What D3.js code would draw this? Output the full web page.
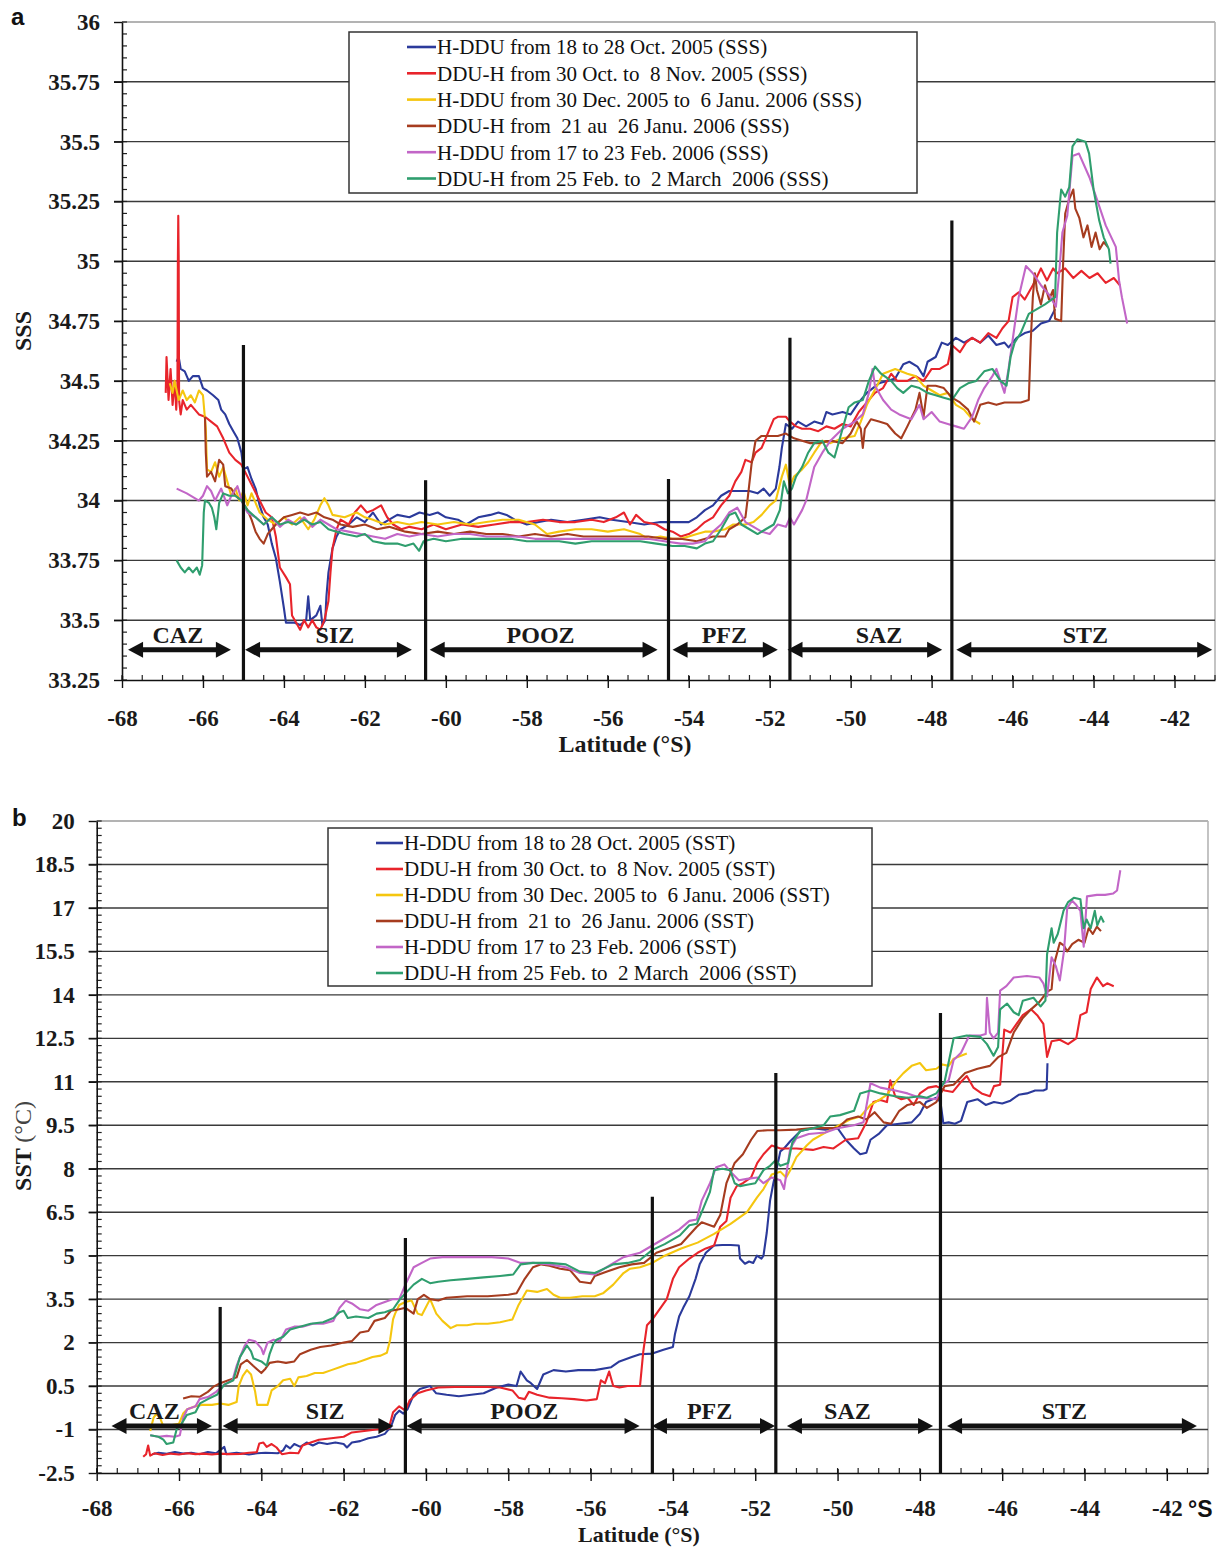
<!DOCTYPE html>
<html>
<head>
<meta charset="utf-8">
<script src="https://cdn.jsdelivr.net/npm/d3@7"></script>
<style>
  body { margin: 0; background: #fff; }
  svg text { font-family: "Liberation Serif", "Times New Roman", serif; }
</style>
</head>
<body>
<svg id="fig" width="1222" height="1547"></svg>
<script>
// ---------- shared axis content ----------
const latTicks = [-68, -66, -64, -62, -60, -58, -56, -54, -52, -50, -48, -46, -44, -42];
const sssTicks = [33.25, 33.5, 33.75, 34, 34.25, 34.5, 34.75, 35, 35.25, 35.5, 35.75, 36];
const sstTicks = [-2.5, -1, 0.5, 2, 3.5, 5, 6.5, 8, 9.5, 11, 12.5, 14, 15.5, 17, 18.5, 20];

// ---------- frontal zones ----------
const zoneNames = ["CAZ", "SIZ", "POOZ", "PFZ", "SAZ", "STZ"];
const frontLats = [-65, -60.5, -54.5, -51.5, -47.5];
const sssFrontTops = [34.65, 34.085, 34.09, 34.68, 35.17];
const sstFrontTops = [3.23, 5.61, 7.03, 11.3, 13.37];
const sssZoneSpans = [[-67.85, -65.31], [-64.96, -60.84], [-60.40, -54.77], [-54.40, -51.80], [-51.56, -47.74], [-47.39, -41.07]];
const sstZoneSpans = [[-67.64, -65.2], [-64.94, -60.79], [-60.47, -54.81], [-54.51, -51.52], [-51.23, -47.68], [-47.34, -41.27]];
const sssZoneLabelLats = [-66.62, -62.74, -57.66, -53.12, -49.3, -44.2];
const sstZoneLabelLats = [-66.6, -62.45, -57.61, -53.11, -49.76, -44.49];
const sssArrowLevel = 33.376;
const sstArrowLevel = -0.88;

// ---------- legend texts ----------
const sssLabels = [
  "H-DDU from 18 to 28 Oct. 2005 (SSS)",
  "DDU-H from 30 Oct. to  8 Nov. 2005 (SSS)",
  "H-DDU from 30 Dec. 2005 to  6 Janu. 2006 (SSS)",
  "DDU-H from  21 au  26 Janu. 2006 (SSS)",
  "H-DDU from 17 to 23 Feb. 2006 (SSS)",
  "DDU-H from 25 Feb. to  2 March  2006 (SSS)"
];
const sstLabels = [
  "H-DDU from 18 to 28 Oct. 2005 (SST)",
  "DDU-H from 30 Oct. to  8 Nov. 2005 (SST)",
  "H-DDU from 30 Dec. 2005 to  6 Janu. 2006 (SST)",
  "DDU-H from  21 to  26 Janu. 2006 (SST)",
  "H-DDU from 17 to 23 Feb. 2006 (SST)",
  "DDU-H from 25 Feb. to  2 March  2006 (SST)"
];
const cruiseColors = ["#2b3a9b", "#e8242b", "#f5c60f", "#a63c1f", "#c266c7", "#2f9e6e"];

// ---------- surface salinity, [latitude, SSS] ----------
const sssOct05 = [[-66.65,34.58],[-66.6,34.6],[-66.55,34.55],[-66.45,34.54],[-66.35,34.5],[-66.25,34.52],[-66.1,34.52],[-66.0,34.47],[-65.9,34.46],[-65.75,34.44],[-65.62,34.42],[-65.55,34.38],[-65.45,34.36],[-65.35,34.32],[-65.25,34.29],[-65.15,34.26],[-65.05,34.2],[-65.0,34.13],[-64.9,34.14],[-64.8,34.09],[-64.7,34.05],[-64.6,33.98],[-64.5,33.93],[-64.4,33.9],[-64.3,33.82],[-64.2,33.76],[-64.1,33.66],[-64.0,33.55],[-63.95,33.49],[-63.75,33.49],[-63.6,33.48],[-63.45,33.5],[-63.4,33.6],[-63.35,33.5],[-63.2,33.52],[-63.1,33.56],[-63.05,33.48],[-62.98,33.5],[-62.95,33.6],[-62.9,33.7],[-62.8,33.8],[-62.7,33.85],[-62.6,33.88],[-62.4,33.9],[-62.2,33.93],[-62.0,33.91],[-61.8,33.95],[-61.6,33.9],[-61.4,33.92],[-61.2,33.94],[-60.9,33.93],[-60.65,33.95],[-60.4,33.94],[-60.2,33.95],[-60.0,33.93],[-59.7,33.92],[-59.5,33.9],[-59.2,33.93],[-58.9,33.94],[-58.7,33.95],[-58.5,33.94],[-58.3,33.92],[-58.0,33.9],[-57.7,33.91],[-57.4,33.92],[-57.0,33.91],[-56.6,33.92],[-56.2,33.93],[-55.9,33.92],[-55.5,33.91],[-55.1,33.9],[-54.7,33.91],[-54.3,33.91],[-54.0,33.91],[-53.8,33.93],[-53.6,33.96],[-53.4,33.98],[-53.2,34.02],[-53.0,34.04],[-52.8,34.04],[-52.5,34.04],[-52.3,34.03],[-52.15,34.05],[-52.0,34.02],[-51.85,34.05],[-51.76,34.14],[-51.7,34.22],[-51.6,34.32],[-51.45,34.3],[-51.3,34.33],[-51.1,34.31],[-50.9,34.33],[-50.7,34.32],[-50.6,34.37],[-50.45,34.36],[-50.2,34.37],[-50.0,34.36],[-49.8,34.41],[-49.6,34.45],[-49.3,34.49],[-49.1,34.5],[-48.9,34.51],[-48.7,34.57],[-48.55,34.58],[-48.35,34.56],[-48.2,34.52],[-48.1,34.58],[-47.9,34.6],[-47.75,34.66],[-47.6,34.65],[-47.4,34.68],[-47.2,34.66],[-47.0,34.68],[-46.8,34.66],[-46.6,34.69],[-46.4,34.65],[-46.2,34.66],[-46.1,34.64],[-45.9,34.68],[-45.7,34.7],[-45.5,34.71],[-45.3,34.74],[-45.1,34.75],[-44.95,34.8]];
const sssNov05 = [[-66.92,34.45],[-66.9,34.6],[-66.85,34.42],[-66.8,34.55],[-66.75,34.4],[-66.7,34.5],[-66.66,34.38],[-66.63,34.5],[-66.62,35.0],[-66.61,35.19],[-66.6,35.02],[-66.59,34.42],[-66.55,34.36],[-66.5,34.42],[-66.4,34.38],[-66.3,34.4],[-66.2,34.38],[-66.1,34.36],[-65.95,34.35],[-65.8,34.33],[-65.65,34.31],[-65.5,34.26],[-65.35,34.2],[-65.2,34.17],[-65.05,34.15],[-64.9,34.1],[-64.75,34.05],[-64.6,34.0],[-64.45,33.95],[-64.3,33.93],[-64.2,33.85],[-64.1,33.72],[-63.95,33.68],[-63.85,33.65],[-63.8,33.52],[-63.7,33.49],[-63.6,33.46],[-63.5,33.5],[-63.4,33.47],[-63.3,33.5],[-63.2,33.47],[-63.1,33.46],[-63.0,33.5],[-62.9,33.58],[-62.85,33.7],[-62.8,33.8],[-62.7,33.88],[-62.6,33.92],[-62.4,33.9],[-62.25,33.95],[-62.1,33.98],[-61.95,33.95],[-61.8,33.96],[-61.6,33.98],[-61.45,33.93],[-61.3,33.9],[-61.1,33.88],[-60.9,33.89],[-60.6,33.88],[-60.3,33.9],[-60.0,33.88],[-59.6,33.9],[-59.2,33.89],[-58.8,33.9],[-58.4,33.91],[-58.0,33.91],[-57.6,33.92],[-57.2,33.91],[-56.8,33.91],[-56.4,33.92],[-56.1,33.91],[-55.8,33.93],[-55.6,33.95],[-55.45,33.9],[-55.3,33.94],[-55.1,33.91],[-54.8,33.9],[-54.6,33.88],[-54.4,33.87],[-54.2,33.85],[-54.0,33.86],[-53.8,33.88],[-53.6,33.91],[-53.4,33.93],[-53.2,33.98],[-53.0,34.02],[-52.85,34.08],[-52.7,34.12],[-52.6,34.17],[-52.45,34.16],[-52.35,34.2],[-52.2,34.22],[-52.05,34.28],[-51.9,34.34],[-51.8,34.35],[-51.6,34.35],[-51.5,34.33],[-51.35,34.31],[-51.2,34.3],[-51.0,34.3],[-50.8,34.29],[-50.6,34.31],[-50.4,34.3],[-50.2,34.32],[-50.0,34.31],[-49.8,34.37],[-49.6,34.41],[-49.4,34.45],[-49.2,34.47],[-49.0,34.53],[-48.85,34.5],[-48.6,34.5],[-48.4,34.52],[-48.2,34.5],[-48.0,34.55],[-47.8,34.55],[-47.6,34.57],[-47.5,34.65],[-47.3,34.62],[-47.15,34.66],[-47.0,34.68],[-46.8,34.66],[-46.6,34.7],[-46.4,34.68],[-46.25,34.72],[-46.1,34.75],[-46.0,34.85],[-45.85,34.87],[-45.7,34.84],[-45.5,34.9],[-45.3,34.97],[-45.15,34.92],[-45.0,34.97],[-44.9,34.95],[-44.7,34.97],[-44.5,34.93],[-44.3,34.96],[-44.1,34.93],[-43.9,34.95],[-43.7,34.91],[-43.5,34.93],[-43.35,34.9]];
const sssJan06a = [[-66.82,34.49],[-66.75,34.45],[-66.7,34.5],[-66.6,34.42],[-66.5,34.46],[-66.4,34.42],[-66.3,34.44],[-66.2,34.41],[-66.1,34.46],[-66.0,34.44],[-65.93,34.3],[-65.9,34.13],[-65.8,34.12],[-65.7,34.16],[-65.6,34.1],[-65.5,34.14],[-65.4,34.08],[-65.3,34.02],[-65.2,34.05],[-65.1,34.0],[-65.0,34.04],[-64.9,33.98],[-64.8,34.03],[-64.6,33.95],[-64.4,33.92],[-64.2,33.9],[-64.0,33.93],[-63.8,33.9],[-63.6,33.93],[-63.4,33.88],[-63.25,33.92],[-63.1,33.98],[-63.0,34.01],[-62.9,33.98],[-62.8,33.94],[-62.5,33.93],[-62.2,33.95],[-62.0,33.93],[-61.8,33.92],[-61.5,33.9],[-61.2,33.91],[-60.9,33.9],[-60.6,33.91],[-60.2,33.9],[-59.8,33.91],[-59.4,33.9],[-59.0,33.91],[-58.6,33.92],[-58.2,33.92],[-57.8,33.9],[-57.5,33.86],[-57.2,33.87],[-56.8,33.88],[-56.4,33.88],[-56.0,33.87],[-55.6,33.88],[-55.2,33.86],[-55.0,33.84],[-54.7,33.85],[-54.4,33.84],[-54.2,33.84],[-54.0,33.85],[-53.8,33.86],[-53.6,33.87],[-53.4,33.87],[-53.1,33.88],[-52.9,33.9],[-52.6,33.9],[-52.4,33.91],[-52.2,33.94],[-52.0,33.98],[-51.85,34.0],[-51.7,34.1],[-51.6,34.15],[-51.5,34.06],[-51.4,34.1],[-51.2,34.13],[-51.05,34.16],[-50.9,34.2],[-50.7,34.25],[-50.5,34.24],[-50.2,34.26],[-49.9,34.27],[-49.75,34.33],[-49.6,34.4],[-49.35,34.48],[-49.2,34.53],[-48.9,34.55],[-48.6,34.53],[-48.4,34.52],[-48.2,34.48],[-48.0,34.46],[-47.8,34.44],[-47.6,34.45],[-47.4,34.4],[-47.2,34.38],[-47.0,34.34],[-46.8,34.32]];
const sssJan06b = [[-65.95,34.35],[-65.93,34.2],[-65.9,34.1],[-65.8,34.12],[-65.7,34.08],[-65.6,34.17],[-65.5,34.15],[-65.45,34.06],[-65.3,34.05],[-65.2,34.02],[-65.05,34.0],[-64.9,33.96],[-64.8,33.92],[-64.7,33.87],[-64.6,33.84],[-64.5,33.82],[-64.4,33.86],[-64.2,33.9],[-64.0,33.93],[-63.8,33.94],[-63.6,33.95],[-63.4,33.94],[-63.2,33.95],[-63.0,33.93],[-62.8,33.92],[-62.6,33.9],[-62.3,33.89],[-62.0,33.9],[-61.7,33.88],[-61.4,33.89],[-61.0,33.87],[-60.6,33.86],[-60.2,33.87],[-59.8,33.86],[-59.4,33.87],[-59.0,33.86],[-58.6,33.86],[-58.2,33.85],[-57.8,33.86],[-57.4,33.85],[-57.0,33.86],[-56.6,33.85],[-56.2,33.85],[-55.8,33.85],[-55.4,33.85],[-55.0,33.85],[-54.6,33.84],[-54.2,33.84],[-53.8,33.83],[-53.4,33.85],[-53.1,33.85],[-53.0,33.88],[-52.8,33.9],[-52.6,33.93],[-52.55,34.0],[-52.45,34.15],[-52.35,34.25],[-52.2,34.27],[-52.0,34.27],[-51.8,34.27],[-51.6,34.28],[-51.4,34.26],[-51.2,34.25],[-51.0,34.24],[-50.8,34.24],[-50.5,34.25],[-50.2,34.24],[-50.0,34.28],[-49.85,34.33],[-49.75,34.3],[-49.7,34.22],[-49.65,34.3],[-49.5,34.34],[-49.3,34.33],[-49.1,34.32],[-48.9,34.28],[-48.75,34.26],[-48.6,34.31],[-48.4,34.38],[-48.3,34.45],[-48.2,34.35],[-48.1,34.48],[-47.9,34.48],[-47.7,34.47],[-47.5,34.43],[-47.3,34.41],[-47.1,34.38],[-46.95,34.33],[-46.8,34.4],[-46.6,34.41],[-46.4,34.4],[-46.2,34.41],[-46.0,34.41],[-45.8,34.41],[-45.6,34.42],[-45.55,34.67],[-45.5,34.85],[-45.45,34.95],[-45.4,34.88],[-45.3,34.82],[-45.2,34.9],[-45.1,34.84],[-45.0,34.88],[-44.95,34.76],[-44.8,34.75],[-44.75,35.0],[-44.7,35.2],[-44.6,35.26],[-44.5,35.3],[-44.45,35.22],[-44.35,35.18],[-44.25,35.1],[-44.15,35.15],[-44.05,35.06],[-43.95,35.12],[-43.85,35.05],[-43.75,35.08],[-43.65,35.06]];
const sssFeb06 = [[-66.65,34.05],[-66.4,34.03],[-66.1,34.0],[-66.0,34.02],[-65.9,34.06],[-65.8,34.04],[-65.7,34.0],[-65.55,34.05],[-65.4,33.98],[-65.3,34.02],[-65.15,34.06],[-65.0,33.98],[-64.9,33.95],[-64.7,33.93],[-64.5,33.9],[-64.3,33.93],[-64.1,33.89],[-63.9,33.92],[-63.7,33.9],[-63.5,33.93],[-63.3,33.89],[-63.1,33.92],[-62.9,33.9],[-62.7,33.88],[-62.4,33.87],[-62.1,33.86],[-61.8,33.85],[-61.5,33.84],[-61.2,33.86],[-60.9,33.85],[-60.6,33.86],[-60.2,33.85],[-59.8,33.86],[-59.4,33.86],[-59.0,33.85],[-58.6,33.85],[-58.2,33.85],[-57.8,33.84],[-57.4,33.84],[-57.0,33.84],[-56.6,33.84],[-56.2,33.84],[-55.8,33.84],[-55.4,33.84],[-55.0,33.84],[-54.6,33.83],[-54.2,33.82],[-53.9,33.82],[-53.6,33.83],[-53.4,33.87],[-53.2,33.9],[-53.0,33.95],[-52.8,33.97],[-52.6,33.91],[-52.4,33.89],[-52.2,33.87],[-52.0,33.86],[-51.8,33.9],[-51.6,33.89],[-51.5,33.93],[-51.4,33.9],[-51.2,33.96],[-51.1,34.0],[-50.9,34.14],[-50.7,34.2],[-50.5,34.25],[-50.2,34.3],[-49.9,34.33],[-49.7,34.36],[-49.55,34.45],[-49.46,34.55],[-49.4,34.48],[-49.2,34.42],[-49.0,34.38],[-48.8,34.36],[-48.5,34.34],[-48.3,34.4],[-48.2,34.34],[-48.0,34.37],[-47.8,34.33],[-47.6,34.32],[-47.4,34.31],[-47.2,34.3],[-47.0,34.35],[-46.85,34.42],[-46.7,34.47],[-46.5,34.52],[-46.4,34.55],[-46.3,34.5],[-46.2,34.45],[-46.1,34.55],[-46.0,34.67],[-45.85,34.85],[-45.67,34.98],[-45.5,34.95],[-45.3,34.9],[-45.1,34.86],[-44.93,34.81],[-44.85,34.95],[-44.77,35.12],[-44.65,35.19],[-44.52,35.44],[-44.36,35.45],[-44.1,35.35],[-43.9,35.25],[-43.7,35.15],[-43.45,35.06],[-43.37,34.92],[-43.3,34.85],[-43.17,34.74]];
const sssMar06 = [[-66.65,33.75],[-66.55,33.72],[-66.45,33.7],[-66.35,33.72],[-66.25,33.7],[-66.15,33.72],[-66.08,33.69],[-66.02,33.73],[-65.98,33.95],[-65.95,34.0],[-65.85,33.99],[-65.78,33.97],[-65.72,33.93],[-65.67,33.88],[-65.6,33.99],[-65.5,34.03],[-65.35,34.02],[-65.2,34.02],[-65.05,34.0],[-64.9,33.96],[-64.7,33.93],[-64.5,33.9],[-64.3,33.93],[-64.1,33.9],[-63.9,33.91],[-63.7,33.9],[-63.5,33.92],[-63.3,33.9],[-63.1,33.91],[-62.9,33.88],[-62.7,33.87],[-62.5,33.86],[-62.2,33.85],[-62.0,33.86],[-61.8,33.83],[-61.5,33.82],[-61.2,33.82],[-61.0,33.81],[-60.8,33.82],[-60.66,33.79],[-60.55,33.83],[-60.3,33.84],[-60.0,33.83],[-59.6,33.84],[-59.2,33.84],[-58.8,33.84],[-58.4,33.84],[-58.0,33.83],[-57.6,33.83],[-57.2,33.83],[-56.8,33.82],[-56.4,33.83],[-56.0,33.83],[-55.6,33.83],[-55.2,33.83],[-54.8,33.82],[-54.4,33.81],[-54.1,33.81],[-53.8,33.8],[-53.6,33.82],[-53.4,33.83],[-53.2,33.88],[-53.0,33.94],[-52.85,33.95],[-52.7,33.9],[-52.5,33.88],[-52.3,33.86],[-52.1,33.88],[-51.9,33.9],[-51.75,33.96],[-51.65,34.08],[-51.55,34.03],[-51.45,34.05],[-51.35,34.1],[-51.2,34.14],[-51.05,34.2],[-50.9,34.24],[-50.7,34.25],[-50.55,34.2],[-50.4,34.18],[-50.2,34.3],[-50.05,34.39],[-49.9,34.41],[-49.7,34.42],[-49.55,34.5],[-49.4,34.56],[-49.25,34.53],[-49.0,34.5],[-48.85,34.47],[-48.7,34.45],[-48.5,34.48],[-48.3,34.47],[-48.1,34.45],[-47.9,34.44],[-47.7,34.43],[-47.5,34.42],[-47.3,34.47],[-47.1,34.49],[-46.9,34.5],[-46.7,34.54],[-46.5,34.55],[-46.3,34.5],[-46.15,34.48],[-46.05,34.6],[-45.95,34.66],[-45.8,34.7],[-45.6,34.78],[-45.4,34.8],[-45.2,34.82],[-44.95,34.85],[-44.9,35.12],[-44.8,35.3],[-44.7,35.27],[-44.6,35.31],[-44.52,35.48],[-44.4,35.51],[-44.2,35.5],[-44.11,35.45],[-44.0,35.3],[-43.86,35.17],[-43.75,35.1],[-43.62,35.05],[-43.58,34.99]];

// ---------- surface temperature, [latitude, SST in °C] ----------
const sstOct05 = [[-66.65,-1.85],[-66.5,-1.8],[-66.3,-1.84],[-66.1,-1.78],[-65.9,-1.83],[-65.7,-1.8],[-65.5,-1.85],[-65.3,-1.78],[-65.1,-1.82],[-64.9,-1.6],[-64.85,-1.85],[-64.6,-1.8],[-64.3,-1.86],[-64.1,-1.82],[-63.9,-1.8],[-63.6,-1.82],[-63.47,-1.72],[-63.4,-1.55],[-63.3,-1.65],[-63.2,-1.5],[-63.05,-1.6],[-62.9,-1.45],[-62.75,-1.55],[-62.6,-1.45],[-62.4,-1.5],[-62.2,-1.45],[-62.0,-1.5],[-61.92,-1.62],[-61.8,-1.45],[-61.6,-1.4],[-61.4,-1.3],[-61.2,-1.25],[-61.0,-1.15],[-60.85,-0.9],[-60.75,-0.5],[-60.65,-0.35],[-60.55,-0.45],[-60.45,-0.3],[-60.3,0.2],[-60.15,0.4],[-59.9,0.5],[-59.75,0.25],[-59.5,0.2],[-59.2,0.15],[-58.9,0.2],[-58.6,0.25],[-58.28,0.45],[-58.0,0.55],[-57.8,0.5],[-57.7,1.0],[-57.55,0.7],[-57.45,0.6],[-57.3,0.4],[-57.15,0.9],[-56.9,1.05],[-56.6,1.0],[-56.3,1.05],[-55.9,1.05],[-55.5,1.15],[-55.3,1.35],[-55.0,1.5],[-54.8,1.6],[-54.5,1.62],[-54.23,1.75],[-54.0,1.85],[-53.95,2.3],[-53.85,2.9],[-53.75,3.2],[-53.6,3.6],[-53.45,4.2],[-53.35,4.7],[-53.2,5.1],[-53.0,5.35],[-52.8,5.37],[-52.6,5.37],[-52.4,5.35],[-52.37,4.9],[-52.25,4.72],[-52.15,4.8],[-52.05,4.75],[-51.96,5.0],[-51.85,4.9],[-51.8,5.0],[-51.72,5.8],[-51.64,6.9],[-51.56,7.5],[-51.45,8.2],[-51.39,8.6],[-51.3,8.7],[-51.15,8.95],[-50.9,9.3],[-50.6,9.4],[-50.3,9.35],[-50.0,9.4],[-49.8,9.0],[-49.6,8.7],[-49.45,8.5],[-49.3,8.55],[-49.2,9.0],[-49.0,9.2],[-48.8,9.5],[-48.5,9.55],[-48.2,9.6],[-48.0,9.9],[-47.85,10.3],[-47.6,10.45],[-47.5,10.3],[-47.43,9.57],[-47.3,9.6],[-47.15,9.55],[-47.0,9.65],[-46.85,10.3],[-46.6,10.4],[-46.4,10.2],[-46.2,10.3],[-46.0,10.25],[-45.8,10.35],[-45.6,10.55],[-45.4,10.6],[-45.2,10.7],[-45.0,10.7],[-44.92,10.75],[-44.9,11.64]];
const sstNov05 = [[-66.87,-1.94],[-66.8,-1.85],[-66.75,-1.55],[-66.7,-1.9],[-66.6,-1.82],[-66.4,-1.88],[-66.2,-1.83],[-66.0,-1.86],[-65.8,-1.82],[-65.6,-1.85],[-65.4,-1.83],[-65.2,-1.86],[-65.0,-1.83],[-64.8,-1.85],[-64.5,-1.84],[-64.3,-1.8],[-64.11,-1.78],[-64.05,-1.48],[-63.95,-1.45],[-63.87,-1.6],[-63.75,-1.5],[-63.63,-1.62],[-63.5,-1.85],[-63.3,-1.8],[-63.1,-1.82],[-63.0,-1.55],[-62.8,-1.45],[-62.6,-1.35],[-62.3,-1.3],[-62.0,-1.25],[-61.8,-1.1],[-61.5,-1.05],[-61.2,-1.0],[-60.9,-0.95],[-60.8,-0.4],[-60.65,-0.2],[-60.5,-0.35],[-60.4,0.0],[-60.2,0.25],[-60.0,0.35],[-59.7,0.45],[-59.3,0.47],[-58.9,0.47],[-58.5,0.47],[-58.2,0.45],[-57.9,0.35],[-57.75,0.1],[-57.6,0.05],[-57.5,0.3],[-57.3,0.2],[-57.0,0.1],[-56.7,0.08],[-56.4,0.05],[-56.1,0.0],[-55.85,0.05],[-55.75,0.7],[-55.65,0.6],[-55.55,1.0],[-55.45,0.5],[-55.3,0.45],[-55.1,0.5],[-54.8,0.5],[-54.72,1.7],[-54.63,2.6],[-54.5,2.8],[-54.3,3.2],[-54.15,3.5],[-54.0,4.2],[-53.85,4.6],[-53.6,4.9],[-53.4,5.1],[-53.2,5.25],[-53.0,5.35],[-52.85,6.0],[-52.7,6.2],[-52.6,7.0],[-52.45,7.4],[-52.3,7.5],[-52.1,7.7],[-51.95,8.2],[-51.8,8.5],[-51.6,8.8],[-51.39,8.7],[-51.0,8.7],[-50.6,8.65],[-50.34,8.75],[-50.1,8.7],[-49.8,9.0],[-49.5,9.05],[-49.3,9.6],[-49.13,10.3],[-48.96,10.37],[-48.8,10.3],[-48.72,11.05],[-48.6,10.5],[-48.45,10.4],[-48.3,10.45],[-48.15,10.2],[-48.0,10.6],[-47.8,10.8],[-47.6,10.85],[-47.4,10.7],[-47.2,10.65],[-47.0,11.0],[-46.86,11.2],[-46.7,10.8],[-46.5,10.6],[-46.3,10.5],[-46.2,10.85],[-46.05,10.9],[-45.95,12.8],[-45.8,12.7],[-45.65,13.0],[-45.5,13.3],[-45.3,13.5],[-45.15,13.3],[-45.0,13.0],[-44.91,11.86],[-44.8,12.4],[-44.6,12.45],[-44.4,12.3],[-44.2,12.5],[-44.1,13.3],[-43.95,13.4],[-43.85,14.2],[-43.7,14.6],[-43.55,14.3],[-43.45,14.4],[-43.29,14.3]];
const sstJan06a = [[-66.7,-1.05],[-66.62,-0.6],[-66.55,-0.45],[-66.46,-0.6],[-66.38,-0.9],[-66.2,-0.85],[-66.0,-0.8],[-65.9,-0.45],[-65.8,-0.3],[-65.6,-0.2],[-65.45,-0.15],[-65.2,-0.15],[-65.0,-0.1],[-64.8,-0.15],[-64.6,-0.05],[-64.55,0.5],[-64.45,0.85],[-64.35,1.05],[-64.25,0.9],[-64.15,0.3],[-64.1,-0.15],[-63.95,-0.15],[-63.85,-0.15],[-63.75,0.35],[-63.6,0.5],[-63.47,0.7],[-63.3,0.75],[-63.2,0.5],[-63.1,0.8],[-62.9,0.85],[-62.7,0.95],[-62.5,0.95],[-62.3,1.05],[-62.1,1.15],[-61.9,1.25],[-61.7,1.3],[-61.5,1.4],[-61.3,1.5],[-61.1,1.55],[-60.95,1.65],[-60.87,2.1],[-60.8,2.8],[-60.75,3.0],[-60.65,3.3],[-60.5,3.4],[-60.35,3.45],[-60.2,3.0],[-60.1,2.95],[-59.9,3.5],[-59.75,3.0],[-59.6,2.75],[-59.4,2.5],[-59.25,2.6],[-59.0,2.6],[-58.8,2.65],[-58.5,2.65],[-58.2,2.7],[-57.9,2.8],[-57.75,3.3],[-57.55,3.8],[-57.3,3.75],[-57.06,3.85],[-56.9,3.65],[-56.74,3.55],[-56.5,3.55],[-56.2,3.6],[-55.9,3.6],[-55.7,3.7],[-55.45,4.0],[-55.2,4.4],[-55.04,4.55],[-54.8,4.6],[-54.5,4.75],[-54.2,5.0],[-53.8,5.25],[-53.4,5.45],[-53.0,5.75],[-52.6,6.1],[-52.2,6.5],[-51.96,7.0],[-51.8,7.3],[-51.6,7.8],[-51.39,7.9],[-51.25,7.7],[-51.15,7.95],[-51.0,8.4],[-50.75,8.8],[-50.6,9.0],[-50.35,9.2],[-50.1,9.4],[-49.9,9.55],[-49.7,9.7],[-49.45,9.8],[-49.2,10.2],[-48.96,10.4],[-48.8,10.55],[-48.56,11.05],[-48.4,11.3],[-48.2,11.55],[-48.0,11.65],[-47.85,11.4],[-47.6,11.45],[-47.45,11.6],[-47.3,11.55],[-47.18,11.8],[-47.0,11.9],[-46.86,11.98]];
const sstJan06b = [[-65.9,0.07],[-65.7,0.15],[-65.5,0.13],[-65.3,0.3],[-65.17,0.47],[-65.0,0.6],[-64.8,0.7],[-64.6,0.8],[-64.5,1.25],[-64.35,1.4],[-64.2,1.2],[-64.0,0.95],[-63.9,1.1],[-63.8,1.3],[-63.6,1.35],[-63.4,1.3],[-63.2,1.35],[-63.06,1.6],[-62.8,1.75],[-62.57,1.85],[-62.3,1.9],[-62.0,2.0],[-61.8,2.05],[-61.6,2.35],[-61.4,2.4],[-61.25,2.75],[-61.0,2.85],[-60.85,3.1],[-60.65,3.15],[-60.5,3.2],[-60.3,3.0],[-60.2,3.5],[-60.05,3.65],[-59.9,3.5],[-59.7,3.45],[-59.5,3.55],[-59.0,3.6],[-58.5,3.6],[-58.0,3.65],[-57.8,3.7],[-57.6,4.2],[-57.4,4.6],[-57.2,4.7],[-57.0,4.65],[-56.74,4.55],[-56.5,4.5],[-56.26,4.1],[-56.0,4.05],[-55.9,4.3],[-55.6,4.45],[-55.3,4.6],[-55.0,4.7],[-54.7,4.75],[-54.4,5.1],[-54.0,5.3],[-53.8,5.4],[-53.42,6.0],[-53.3,6.15],[-53.0,6.0],[-52.85,6.4],[-52.7,7.5],[-52.5,8.2],[-52.3,8.5],[-52.1,9.0],[-51.95,9.3],[-51.7,9.33],[-51.39,9.33],[-51.0,9.35],[-50.6,9.4],[-50.34,9.4],[-50.0,9.4],[-49.77,9.7],[-49.5,9.8],[-49.3,9.7],[-49.1,9.95],[-48.88,9.6],[-48.7,9.55],[-48.5,10.0],[-48.3,10.2],[-48.0,10.3],[-47.83,10.1],[-47.6,10.3],[-47.4,10.85],[-47.18,10.9],[-46.9,11.3],[-46.6,11.45],[-46.3,11.55],[-46.1,11.85],[-45.9,12.0],[-45.72,12.7],[-45.5,13.2],[-45.3,13.5],[-45.1,13.75],[-44.91,14.1],[-44.8,14.2],[-44.75,15.0],[-44.6,15.8],[-44.5,15.7],[-44.42,15.5],[-44.3,15.75],[-44.15,15.9],[-44.0,15.8],[-43.9,16.3],[-43.8,16.1],[-43.7,16.35],[-43.6,16.2]];
const sstFeb06 = [[-66.7,-1.2],[-66.5,-1.25],[-66.3,-1.22],[-66.1,-1.25],[-65.98,-1.2],[-65.9,-0.6],[-65.8,-0.3],[-65.6,-0.2],[-65.5,0.05],[-65.3,0.12],[-65.1,0.3],[-64.9,0.55],[-64.7,0.7],[-64.6,1.2],[-64.52,1.5],[-64.4,1.9],[-64.3,2.1],[-64.15,2.05],[-64.0,1.8],[-63.95,1.6],[-63.85,2.0],[-63.7,2.1],[-63.55,2.05],[-63.4,2.45],[-63.2,2.55],[-63.0,2.55],[-62.75,2.65],[-62.5,2.65],[-62.25,2.75],[-62.1,3.2],[-61.95,3.45],[-61.8,3.35],[-61.6,3.15],[-61.4,3.1],[-61.2,3.3],[-61.0,3.4],[-60.8,3.5],[-60.65,3.5],[-60.5,4.0],[-60.4,4.3],[-60.3,4.6],[-60.1,4.75],[-59.9,4.9],[-59.6,4.95],[-59.2,4.95],[-58.8,4.95],[-58.4,4.95],[-58.0,4.9],[-57.7,4.75],[-57.4,4.75],[-57.0,4.7],[-56.6,4.6],[-56.26,4.4],[-55.9,4.35],[-55.5,4.7],[-55.2,4.95],[-54.8,5.1],[-54.5,5.35],[-54.2,5.6],[-53.85,5.9],[-53.6,6.2],[-53.42,6.25],[-53.3,6.9],[-53.1,7.5],[-52.95,8.05],[-52.75,8.15],[-52.6,7.9],[-52.4,7.6],[-52.2,7.65],[-51.95,7.7],[-51.8,7.5],[-51.6,7.7],[-51.39,7.6],[-51.3,7.3],[-51.15,8.7],[-51.0,9.05],[-50.7,9.2],[-50.3,9.25],[-50.0,9.4],[-49.6,9.5],[-49.37,9.6],[-49.2,10.95],[-48.96,10.8],[-48.6,10.7],[-48.3,10.6],[-48.0,10.45],[-47.6,10.4],[-47.45,10.9],[-47.3,11.05],[-47.18,11.75],[-47.0,12.0],[-46.8,12.6],[-46.53,12.6],[-46.4,12.65],[-46.37,13.9],[-46.3,12.7],[-46.21,12.5],[-46.1,12.7],[-46.05,14.15],[-45.9,14.3],[-45.72,14.6],[-45.4,14.65],[-45.1,14.6],[-45.0,14.4],[-44.91,13.95],[-44.8,15.3],[-44.7,15.0],[-44.6,14.5],[-44.5,15.5],[-44.42,17.0],[-44.3,17.25],[-44.2,17.1],[-44.1,16.9],[-44.02,15.66],[-43.94,17.4],[-43.7,17.45],[-43.5,17.45],[-43.3,17.5],[-43.21,17.6],[-43.13,18.3]];
const sstMar06 = [[-66.7,-1.2],[-66.5,-1.25],[-66.38,-1.35],[-66.3,-1.5],[-66.14,-1.45],[-66.05,-0.95],[-65.98,-0.9],[-65.81,-0.5],[-65.6,-0.4],[-65.49,-0.1],[-65.3,0.05],[-65.08,0.2],[-64.9,0.55],[-64.68,0.7],[-64.52,1.5],[-64.35,1.9],[-64.25,1.7],[-64.19,1.45],[-64.0,1.35],[-63.87,1.2],[-63.8,1.6],[-63.71,1.95],[-63.63,2.1],[-63.47,2.2],[-63.3,2.45],[-63.06,2.55],[-62.8,2.65],[-62.5,2.7],[-62.25,2.85],[-62.1,3.05],[-62.0,3.1],[-61.9,2.85],[-61.7,2.9],[-61.4,2.85],[-61.2,3.0],[-61.0,3.05],[-60.8,3.15],[-60.63,3.5],[-60.5,3.7],[-60.3,4.0],[-60.1,4.2],[-59.9,4.05],[-59.7,4.1],[-59.4,4.15],[-59.0,4.2],[-58.6,4.25],[-58.2,4.3],[-57.88,4.35],[-57.7,4.7],[-57.4,4.75],[-57.0,4.75],[-56.6,4.7],[-56.26,4.45],[-55.9,4.4],[-55.45,4.7],[-55.1,4.75],[-54.8,4.85],[-54.5,5.2],[-54.2,5.4],[-53.83,5.7],[-53.6,6.05],[-53.42,6.1],[-53.3,6.5],[-53.1,7.2],[-53.0,7.95],[-52.8,8.0],[-52.61,7.95],[-52.5,7.5],[-52.37,7.4],[-52.2,7.45],[-52.0,7.5],[-51.8,7.95],[-51.64,8.1],[-51.5,8.3],[-51.39,8.1],[-51.2,8.2],[-51.1,8.9],[-50.91,9.3],[-50.6,9.4],[-50.34,9.5],[-50.18,9.8],[-49.94,9.85],[-49.6,10.0],[-49.45,10.6],[-49.2,10.7],[-48.96,10.6],[-48.6,10.5],[-48.3,10.45],[-48.0,10.5],[-47.83,10.45],[-47.6,10.6],[-47.4,11.0],[-47.18,12.5],[-46.86,12.6],[-46.53,12.55],[-46.37,12.3],[-46.21,11.9],[-46.1,12.2],[-46.05,13.5],[-45.88,13.7],[-45.72,13.4],[-45.6,13.3],[-45.5,13.8],[-45.24,13.9],[-45.07,13.6],[-44.95,13.8],[-44.91,15.4],[-44.8,16.3],[-44.75,15.8],[-44.65,16.1],[-44.51,16.9],[-44.4,17.2],[-44.26,17.35],[-44.1,17.3],[-44.02,16.3],[-43.95,16.6],[-43.85,16.3],[-43.75,16.9],[-43.69,16.4],[-43.6,16.7],[-43.53,16.5]];

const sssSeries = [sssOct05, sssNov05, sssJan06a, sssJan06b, sssFeb06, sssMar06];
const sstSeries = [sstOct05, sstNov05, sstJan06a, sstJan06b, sstFeb06, sstMar06];

// ---------- drawing ----------
const svg = d3.select("#fig");
const fmt = v => String(+v.toFixed(2));

function drawPanel(cfg) {
  const g = svg.append("g");
  const x = d3.scaleLinear().domain([-68, -41]).range([cfg.left, cfg.right]);
  const y = d3.scaleLinear().domain(cfg.yDomain).range([cfg.bottom, cfg.top]);

  // frame: light top/right border
  g.append("line").attr("x1", cfg.left).attr("x2", cfg.right).attr("y1", cfg.top).attr("y2", cfg.top)
    .attr("stroke", "#9a9a9a").attr("stroke-width", 1.6);
  g.append("line").attr("x1", cfg.right).attr("x2", cfg.right).attr("y1", cfg.top).attr("y2", cfg.bottom)
    .attr("stroke", "#b5b5b5").attr("stroke-width", 1.6);

  // horizontal gridlines at the labelled values
  g.selectAll(".grid").data(cfg.yTicks.filter(v => v !== cfg.yDomain[0] && v !== cfg.yDomain[1]))
    .join("line")
    .attr("x1", cfg.left - 8).attr("x2", cfg.right)
    .attr("y1", d => y(d)).attr("y2", d => y(d))
    .attr("stroke", "#3a3a3a").attr("stroke-width", 1.4);

  // minor ticks (inside)
  const yMinor = d3.range(Math.round((cfg.yDomain[1] - cfg.yDomain[0]) / cfg.yMinorStep) + 1)
    .map(i => cfg.yDomain[0] + i * cfg.yMinorStep);
  g.selectAll(".ymin").data(yMinor).join("line")
    .attr("x1", cfg.left).attr("x2", cfg.left + 5)
    .attr("y1", d => y(d)).attr("y2", d => y(d))
    .attr("stroke", "#222").attr("stroke-width", 1.2);
  const xMinor = d3.range(55).map(i => -68 + i * 0.5);
  g.selectAll(".xmin").data(xMinor).join("line")
    .attr("x1", d => x(d)).attr("x2", d => x(d))
    .attr("y1", cfg.bottom).attr("y2", cfg.bottom - 5)
    .attr("stroke", "#222").attr("stroke-width", 1.2);

  // y axis
  const ya = g.append("g").attr("transform", `translate(${cfg.left},0)`)
    .call(d3.axisLeft(y).tickValues(cfg.yTicks).tickFormat(fmt).tickSize(8).tickSizeOuter(0).tickPadding(14));
  ya.select(".domain").attr("stroke", "#111").attr("stroke-width", 1.6);
  ya.selectAll(".tick line").attr("stroke", "#111").attr("stroke-width", 1.4);
  ya.selectAll(".tick text").attr("font-family", "Liberation Serif, serif").attr("font-weight", "bold")
    .attr("font-size", 23).attr("fill", "#1a1a1a");

  // x axis
  const xa = g.append("g").attr("transform", `translate(0,${cfg.bottom})`)
    .call(d3.axisBottom(x).tickValues(latTicks).tickFormat(d => String(d)).tickSize(8).tickSizeOuter(0).tickPadding(cfg.xTickPad));
  xa.select(".domain").attr("stroke", "#111").attr("stroke-width", 1.6);
  xa.selectAll(".tick line").attr("stroke", "#111").attr("stroke-width", 1.4).attr("y1", -4);
  xa.selectAll(".tick text").attr("font-family", "Liberation Serif, serif").attr("font-weight", "bold")
    .attr("font-size", 23).attr("fill", "#1a1a1a");

  // cruise tracks
  const line = d3.line().x(d => x(d[0])).y(d => y(d[1]));
  g.selectAll(".track").data(cfg.series).join("path")
    .attr("d", line)
    .attr("fill", "none")
    .attr("stroke", (d, i) => cruiseColors[i])
    .attr("stroke-width", 2.1)
    .attr("stroke-linejoin", "round");

  // fronts
  g.selectAll(".front").data(frontLats).join("line")
    .attr("x1", d => x(d)).attr("x2", d => x(d))
    .attr("y1", cfg.bottom).attr("y2", (d, i) => y(cfg.frontTops[i]))
    .attr("stroke", "#111").attr("stroke-width", 3.2);

  // zone arrows
  const ay = y(cfg.arrowLevel);
  const head = 15, half = 8;
  cfg.spans.forEach(([a, b]) => {
    const x0 = x(a), x1 = x(b);
    g.append("line").attr("x1", x0 + head - 2).attr("x2", x1 - head + 2).attr("y1", ay).attr("y2", ay)
      .attr("stroke", "#111").attr("stroke-width", 5);
    g.append("path").attr("d", `M${x0},${ay} L${x0 + head},${ay - half} L${x0 + head},${ay + half} Z`).attr("fill", "#111");
    g.append("path").attr("d", `M${x1},${ay} L${x1 - head},${ay - half} L${x1 - head},${ay + half} Z`).attr("fill", "#111");
  });
  g.selectAll(".zone").data(zoneNames).join("text")
    .attr("x", (d, i) => x(cfg.labelLats[i])).attr("y", ay - 7)
    .attr("text-anchor", "middle")
    .attr("font-weight", "bold").attr("font-size", 24).attr("fill", "#1a1a1a")
    .text(d => d);

  // legend
  const L = cfg.legend;
  g.append("rect").attr("x", L.x).attr("y", L.y).attr("width", L.w).attr("height", L.h)
    .attr("fill", "#fff").attr("stroke", "#333").attr("stroke-width", 1.5);
  cfg.labels.forEach((t, i) => {
    const ry = L.row0 + i * L.step;
    g.append("line").attr("x1", L.lineX).attr("x2", L.lineX + L.lineW).attr("y1", ry).attr("y2", ry)
      .attr("stroke", cruiseColors[i]).attr("stroke-width", 2.6);
    g.append("text").attr("x", L.lineX + L.lineW + 1).attr("y", ry).attr("dy", "0.35em")
      .attr("font-size", 21).attr("fill", "#111").style("white-space", "pre")
      .text(t);
  });

  // axis titles
  g.append("text").attr("x", cfg.xTitleX).attr("y", cfg.xTitleY).attr("text-anchor", "middle")
    .attr("font-weight", "bold").attr("font-size", cfg.xTitleSize).attr("fill", "#1a1a1a").text("Latitude (°S)");
  const yt = g.append("text").attr("transform", `translate(${cfg.yTitleX},${cfg.yTitleY}) rotate(-90)`)
    .attr("text-anchor", "middle").attr("font-size", 24).attr("fill", "#1a1a1a");
  yt.append("tspan").attr("font-weight", "bold").text(cfg.yTitle);
  if (cfg.yUnit) yt.append("tspan").attr("font-weight", "normal").attr("fill", "#444").text(cfg.yUnit);

  // panel letter
  g.append("text").attr("x", cfg.letterX).attr("y", cfg.letterY)
    .style("font-family", "Liberation Sans, Arial, sans-serif").attr("font-weight", "bold")
    .attr("font-size", 24).attr("fill", "#111").text(cfg.letter);

  return { x, y, g };
}

drawPanel({
  letter: "a", letterX: 11, letterY: 25,
  series: sssSeries, labels: sssLabels,
  yDomain: [33.25, 36], yTicks: sssTicks, yMinorStep: 0.05,
  left: 122, right: 1215, top: 22, bottom: 680, xTickPad: 22,
  frontTops: sssFrontTops, spans: sssZoneSpans, labelLats: sssZoneLabelLats, arrowLevel: sssArrowLevel,
  legend: { x: 349, y: 32, w: 568, h: 161, lineX: 407, lineW: 29, row0: 47, step: 26.3 },
  xTitleX: 625, xTitleY: 752, xTitleSize: 24,
  yTitle: "SSS", yUnit: null, yTitleX: 31, yTitleY: 331
});

const pb = drawPanel({
  letter: "b", letterX: 12, letterY: 826,
  series: sstSeries, labels: sstLabels,
  yDomain: [-2.5, 20], yTicks: sstTicks, yMinorStep: 0.25,
  left: 96.7, right: 1208, top: 821, bottom: 1473, xTickPad: 19,
  frontTops: sstFrontTops, spans: sstZoneSpans, labelLats: sstZoneLabelLats, arrowLevel: sstArrowLevel,
  legend: { x: 328, y: 828, w: 544, h: 158, lineX: 376, lineW: 27, row0: 843, step: 26 },
  xTitleX: 639, xTitleY: 1542, xTitleSize: 22,
  yTitle: "SST ", yUnit: "(°C)", yTitleX: 31, yTitleY: 1146
});

// unit mark after the last latitude label of panel b
pb.g.append("text").attr("x", 1188).attr("y", 1517)
  .style("font-family", "Liberation Sans, Arial, sans-serif").attr("font-weight", "bold")
  .attr("font-size", 23).attr("fill", "#111").text("°S");
</script>
</body>
</html>
